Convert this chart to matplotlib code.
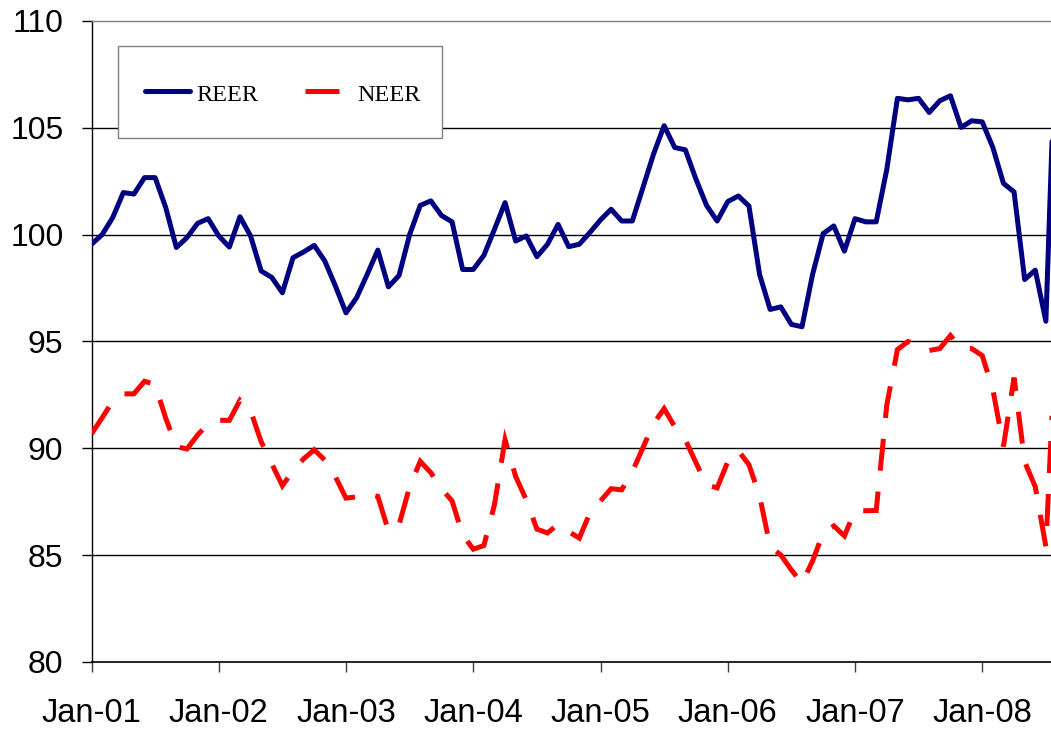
import matplotlib
matplotlib.use("Agg")
import matplotlib.pyplot as plt
from matplotlib.patches import Rectangle
from matplotlib.lines import Line2D
import numpy as np

# ---- data (monthly, Jan-01 .. Aug-08) ----
reer = [
    99.55, 100.0, 100.8, 101.97, 101.9, 102.67, 102.67, 101.27, 99.4, 99.86, 100.53, 100.75,   # 2001
    99.94, 99.42, 100.84, 99.94, 98.3, 98.0, 97.28, 98.92, 99.19, 99.5, 98.77, 97.6,          # 2002
    96.34, 97.05, 98.14, 99.28, 97.56, 98.09, 100.0, 101.37, 101.58, 100.9, 100.6, 98.37,     # 2003
    98.37, 99.03, 100.25, 101.5, 99.7, 99.94, 98.97, 99.55, 100.48, 99.44, 99.55, 100.1,      # 2004
    100.69, 101.19, 100.64, 100.64, 102.2, 103.77, 105.1, 104.08, 103.97, 102.6, 101.37, 100.64,  # 2005
    101.55, 101.81, 101.34, 98.14, 96.5, 96.62, 95.8, 95.69, 98.14, 100.05, 100.41, 99.23,    # 2006
    100.75, 100.6, 100.6, 103.06, 106.38, 106.31, 106.38, 105.72, 106.27, 106.5, 105.02, 105.33,  # 2007
    105.28, 104.08, 102.4, 102.0, 97.9, 98.34, 95.95, 110.5,                                  # 2008
]
neer = [
    90.68, 91.43, 92.21, 92.55, 92.55, 93.14, 92.98, 91.41, 90.08, 89.97, 90.62, 91.15,       # 2001
    91.31, 91.31, 92.25, 91.76, 90.31, 89.28, 88.25, 88.95, 89.51, 89.93, 89.45, 88.67,       # 2002
    87.67, 87.73, 87.87, 87.75, 86.14, 86.42, 88.2, 89.39, 88.86, 88.11, 87.54, 85.95,        # 2003
    85.28, 85.45, 87.36, 90.4, 88.68, 87.59, 86.22, 86.04, 86.45, 86.1, 85.8, 86.98,          # 2004
    87.54, 88.11, 88.06, 88.9, 90.03, 91.15, 91.86, 91.01, 90.4, 89.33, 88.29, 88.15,         # 2005
    89.37, 89.89, 89.23, 87.78, 85.4, 85.01, 84.31, 83.68, 84.73, 86.04, 86.37, 85.9,         # 2006
    87.09, 87.08, 87.09, 92.04, 94.62, 95.0, 94.81, 94.58, 94.67, 95.28, 94.67, 94.67,        # 2007
    94.34, 92.75, 90.09, 93.31, 89.37, 88.2, 85.4, 96.0,                                      # 2008
]
series_names = ["REER", "NEER"]
tick_months = [0, 12, 24, 36, 48, 60, 72, 84]
tick_labels = ["Jan-01", "Jan-02", "Jan-03", "Jan-04", "Jan-05", "Jan-06", "Jan-07", "Jan-08"]
y_ticks = [80, 85, 90, 95, 100, 105, 110]

months = np.arange(len(reer))

REER_COLOR = "#000080"
NEER_COLOR = "#FF0000"
LW = 3.6
NEER_DASH = (6.4, 4.2)

W, H = 1051, 731
fig = plt.figure(figsize=(W / 100, H / 100), dpi=100)
fig.patch.set_facecolor("white")
left_px, right_px, top_px, bottom_px = 91.5, 1051, 21, 662
ax = fig.add_axes([left_px / W, 1 - bottom_px / H, (right_px - left_px) / W, (bottom_px - top_px) / H])

ax.plot(months, reer, color=REER_COLOR, lw=LW, solid_joinstyle="round",
        solid_capstyle="round", label=series_names[0], zorder=3)
ax.plot(months, neer, color=NEER_COLOR, lw=LW, dashes=NEER_DASH,
        dash_capstyle="butt", dash_joinstyle="miter", label=series_names[1], zorder=3)

ax.set_ylim(80, 110)
ax.set_xlim(0, (right_px - left_px) / (127.25 / 12))
ax.set_yticks(y_ticks)
ax.set_xticks(tick_months)
ax.set_xticklabels(tick_labels)

ax.grid(axis="y", color="black", lw=1.0)
ax.grid(axis="x", visible=False)
gl = ax.yaxis.get_gridlines()
gl[-1].set_visible(False)
gl[0].set_visible(False)

ax.spines["right"].set_visible(False)
ax.spines["top"].set_color("#808080")
ax.spines["top"].set_linewidth(1.0)
ax.spines["left"].set_color("black")
ax.spines["bottom"].set_color("black")
ax.spines["left"].set_linewidth(1.0)
ax.spines["bottom"].set_linewidth(1.2)

ax.tick_params(axis="y", direction="out", length=7.2, width=1.0, pad=13,
               labelsize=23, labelcolor="black")
ax.tick_params(axis="x", direction="out", length=7.2, width=1.0, pad=19,
               labelsize=23.5, color="#404040", labelcolor="black")
for lab in ax.get_xticklabels() + ax.get_yticklabels():
    lab.set_fontfamily("Liberation Sans")

# ---- legend box (drawn in figure pixel space) ----
def fx(px):
    return px / W

def fy(py):
    return 1 - py / H

box = Rectangle((fx(118.3), fy(137.7)), (441.7 - 118.3) / W, (137.7 - 45.7) / H,
                transform=fig.transFigure, facecolor="white", edgecolor="#808080",
                lw=1.0, zorder=5)
fig.patches.append(box)

leg_y = 91
fig.lines.append(Line2D([fx(145), fx(189.5)], [fy(leg_y), fy(leg_y)], transform=fig.transFigure,
                        color=REER_COLOR, lw=LW, solid_capstyle="round", zorder=6))
fig.text(fx(196.5), fy(101), series_names[0], family="Liberation Serif", fontsize=17.5,
         ha="left", va="baseline", color="black", zorder=6)
fig.lines.append(Line2D([fx(305), fx(339)], [fy(leg_y), fy(leg_y)], transform=fig.transFigure,
                        color=NEER_COLOR, lw=LW, solid_capstyle="butt", zorder=6))
fig.text(fx(357.5), fy(101), series_names[1], family="Liberation Serif", fontsize=17.5,
         ha="left", va="baseline", color="black", zorder=6)

fig.savefig("out.png", dpi=100, facecolor="white")
